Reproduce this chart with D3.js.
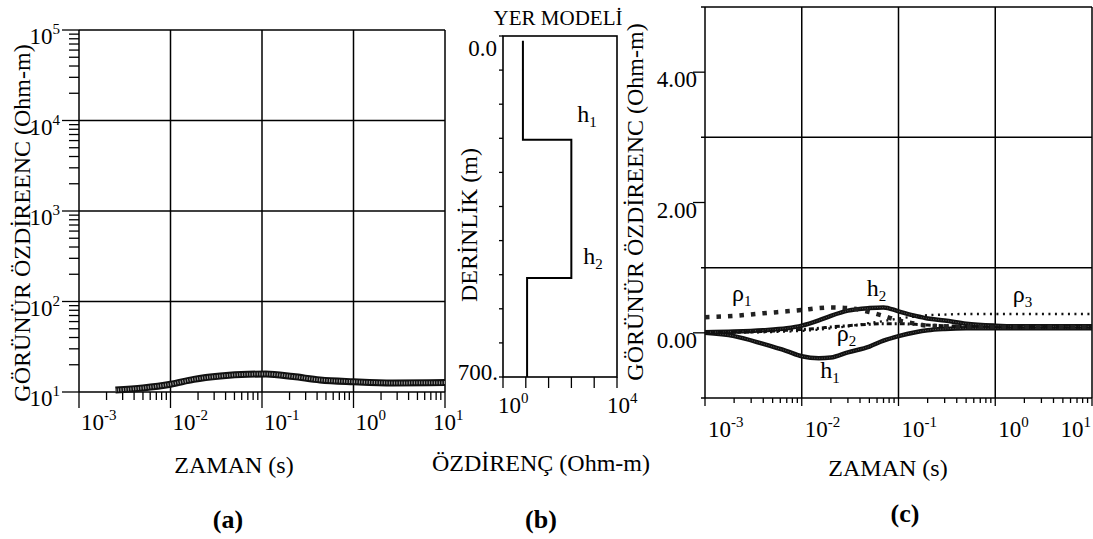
<!DOCTYPE html>
<meta charset="utf-8">
<style>
body { margin: 0; background: #fff; }
svg { font-family: "Liberation Serif", "Times New Roman", serif; }
.frame { fill: none; stroke: #000; stroke-width: 1.6; }
.grid { stroke: #000; stroke-width: 1.5; }
.tick { stroke: #000; stroke-width: 1.3; }
</style>
<svg width="1093" height="539"></svg>
<script src="https://cdn.jsdelivr.net/npm/d3@7"></script>
<script>
// (a) apparent resistivity curve
var timeA = [0.0025, 0.005, 0.01, 0.018, 0.035, 0.07, 0.11, 0.22, 0.43, 1, 2.7, 10];
var rhoA = [10.5, 11.1, 12.2, 13.8, 15.0, 15.7, 15.8, 14.8, 13.6, 13.0, 12.6, 12.7];

// (b) earth model
var layerRho = [5, 250, 7];
var layerTop = [10, 213, 497];
var modelBottom = 700;

// (c) sensitivities
var timeC = [0.001, 0.002, 0.004, 0.007, 0.01, 0.015, 0.02, 0.03, 0.05, 0.07, 0.1, 0.15, 0.2, 0.3, 0.5, 1, 2, 5, 10];
var sensH1 = [0, -0.05, -0.17, -0.28, -0.36, -0.39, -0.38, -0.30, -0.21, -0.12, -0.05, 0.01, 0.04, 0.06, 0.07, 0.07, 0.07, 0.07, 0.07];
var sensH2 = [0.01, 0.02, 0.04, 0.07, 0.11, 0.19, 0.26, 0.34, 0.38, 0.39, 0.33, 0.26, 0.22, 0.19, 0.14, 0.11, 0.1, 0.1, 0.1];
var sensRho1 = [0.24, 0.26, 0.30, 0.33, 0.35, 0.38, 0.39, 0.38, 0.32, 0.26, 0.19, 0.14, 0.11, 0.10, 0.09, 0.09, 0.09, 0.09, 0.09];
var sensRho2 = [0, 0.01, 0.02, 0.04, 0.05, 0.07, 0.09, 0.11, 0.13, 0.14, 0.14, 0.13, 0.12, 0.11, 0.1, 0.09, 0.09, 0.09, 0.09];
var sensRho3 = [0, 0.005, 0.01, 0.02, 0.03, 0.05, 0.07, 0.1, 0.15, 0.18, 0.22, 0.25, 0.27, 0.28, 0.29, 0.29, 0.29, 0.29, 0.29];

var svg = d3.select("svg");

function isDecade(d) {
  var l = Math.log10(d);
  return Math.abs(l - Math.round(l)) < 1e-9;
}
// "10" with a raised exponent
function pow10(text, e) {
  text.append("tspan").text("10");
  text.append("tspan").attr("dy", -10).attr("font-size", 15).text(e);
}
function sub(text, base, s) {
  text.append("tspan").text(base);
  text.append("tspan").attr("dy", 5).attr("font-size", 15).text(s);
}
// thick stippled line: dark edge with a dotted grey core
function band(g, pts, line, w) {
  g.append("path").attr("d", line(pts)).attr("fill", "none")
    .attr("stroke", "#111").attr("stroke-width", w);
  g.append("path").attr("d", line(pts)).attr("fill", "none")
    .attr("stroke", "#a0a0a0").attr("stroke-width", w - 4)
    .attr("stroke-dasharray", "1,1.5");
}

// ---------- panel (a) ----------
var xA = d3.scaleLog().domain([1e-3, 10]).range([79, 445]);
var yA = d3.scaleLog().domain([10, 1e5]).range([392, 30]);
var gA = svg.append("g");
var decA = xA.ticks().filter(isDecade);
var decAy = yA.ticks().filter(isDecade);

gA.selectAll(".vx").data(decA).enter().append("line").attr("class", "grid")
  .attr("x1", xA).attr("x2", xA).attr("y1", yA(10)).attr("y2", yA(1e5));
gA.selectAll(".hy").data(decAy).enter().append("line").attr("class", "grid")
  .attr("x1", xA(1e-3)).attr("x2", xA(10)).attr("y1", yA).attr("y2", yA);
gA.selectAll(".tx").data(xA.ticks()).enter().append("line").attr("class", "tick")
  .attr("x1", xA).attr("x2", xA).attr("y1", yA(10))
  .attr("y2", function(d) { return yA(10) + (isDecade(d) ? 16 : 8); });
gA.selectAll(".ty").data(yA.ticks()).enter().append("line").attr("class", "tick")
  .attr("y1", yA).attr("y2", yA).attr("x1", xA(1e-3))
  .attr("x2", function(d) { return xA(1e-3) - (isDecade(d) ? 17 : 10); });

decA.forEach(function(d, i) {
  var last = i == decA.length - 1;
  var t = gA.append("text").attr("x", xA(d) + (last ? -12 : 2)).attr("y", 430).attr("font-size", 23);
  pow10(t, Math.round(Math.log10(d)));
});
decAy.forEach(function(d) {
  var t = gA.append("text").attr("x", 60).attr("y", yA(d) + 14)
    .attr("font-size", 23).attr("text-anchor", "end");
  pow10(t, Math.round(Math.log10(d)));
});

var lineA = d3.line().curve(d3.curveMonotoneX)
  .x(function(d) { return xA(d[0]); }).y(function(d) { return yA(d[1]); });
band(gA, d3.zip(timeA, rhoA), lineA, 7);

gA.append("text").attr("transform", "translate(30,223) rotate(-90)")
  .attr("text-anchor", "middle").attr("font-size", 24).text("GÖRÜNÜR ÖZDİREENC (Ohm-m)");
gA.append("text").attr("x", 234).attr("y", 473).attr("text-anchor", "middle")
  .attr("font-size", 24).text("ZAMAN (s)");
gA.append("text").attr("x", 228).attr("y", 528).attr("text-anchor", "middle")
  .attr("font-size", 26).attr("font-weight", "bold").text("(a)");

// ---------- panel (b) ----------
var xB = d3.scaleLog().domain([1, 1e4]).range([503, 617]);
var yB = d3.scaleLinear().domain([0, modelBottom]).range([36, 377]);
var gB = svg.append("g");
gB.append("rect").attr("class", "frame")
  .attr("x", xB(1)).attr("y", yB(0)).attr("width", xB(1e4) - xB(1)).attr("height", yB(modelBottom) - yB(0));
var bTicks = d3.range(0, 4.01, 0.8).map(function(e) { return Math.pow(10, e); });
gB.selectAll(".tx").data(bTicks).enter().append("line").attr("class", "tick")
  .attr("x1", xB).attr("x2", xB).attr("y1", yB(modelBottom)).attr("y2", yB(modelBottom) + 11);
gB.selectAll(".ty").data(d3.range(0, modelBottom + 1, 70)).enter().append("line").attr("class", "tick")
  .attr("y1", yB).attr("y2", yB).attr("x1", xB(1)).attr("x2", xB(1) - 4);

var modelPts = [];
layerRho.forEach(function(r, i) {
  modelPts.push([r, layerTop[i]]);
  modelPts.push([r, i < layerRho.length - 1 ? layerTop[i + 1] : modelBottom]);
});
gB.append("path").attr("fill", "none").attr("stroke", "#000").attr("stroke-width", 2)
  .attr("d", d3.line().x(function(d) { return xB(d[0]); }).y(function(d) { return yB(d[1]); })(modelPts));

gB.append("text").attr("x", 497).attr("y", yB(0) + 20).attr("text-anchor", "end")
  .attr("font-size", 23).text("0.0");
gB.append("text").attr("x", 498).attr("y", yB(modelBottom) + 3).attr("text-anchor", "end")
  .attr("font-size", 23).text("700.");
pow10(gB.append("text").attr("x", xB(1) - 5).attr("y", 413).attr("font-size", 23), 0);
pow10(gB.append("text").attr("x", xB(1e4) - 10).attr("y", 413).attr("font-size", 23), 4);

sub(gB.append("text").attr("x", xB(layerRho[1]) + 6).attr("y", yB(layerTop[1]) - 18).attr("font-size", 24), "h", "1");
sub(gB.append("text").attr("x", xB(layerRho[1]) + 12).attr("y", yB(layerTop[2]) - 14).attr("font-size", 24), "h", "2");

gB.append("text").attr("x", 558).attr("y", 25).attr("text-anchor", "middle")
  .attr("font-size", 21).text("YER MODELİ");
gB.append("text").attr("transform", "translate(477,225) rotate(-90)")
  .attr("text-anchor", "middle").attr("font-size", 24).text("DERİNLİK (m)");
gB.append("text").attr("x", 541).attr("y", 471).attr("text-anchor", "middle")
  .attr("font-size", 24).text("ÖZDİRENÇ (Ohm-m)");
gB.append("text").attr("x", 541).attr("y", 528).attr("text-anchor", "middle")
  .attr("font-size", 26).attr("font-weight", "bold").text("(b)");

// ---------- panel (c) ----------
var xC = d3.scaleLog().domain([1e-3, 10]).range([705, 1092]);
var yC = d3.scaleLinear().domain([-1, 5]).range([398, 7]);
var gC = svg.append("g");
var decC = xC.ticks().filter(isDecade);

gC.selectAll(".vx").data(decC).enter().append("line").attr("class", "grid")
  .attr("x1", xC).attr("x2", xC).attr("y1", yC(-1)).attr("y2", yC(5));
gC.selectAll(".hy").data([-1, 1, 3, 5]).enter().append("line").attr("class", "grid")
  .attr("x1", xC(1e-3) - 4).attr("x2", xC(10)).attr("y1", yC).attr("y2", yC);
gC.selectAll(".ty").data([0, 2, 4]).enter().append("line").attr("class", "tick")
  .attr("x1", xC(1e-3) - 12).attr("x2", xC(1e-3)).attr("y1", yC).attr("y2", yC);
gC.selectAll(".tx").data(xC.ticks()).enter().append("line").attr("class", "tick")
  .attr("x1", xC).attr("x2", xC).attr("y1", yC(-1))
  .attr("y2", function(d) { return yC(-1) + (isDecade(d) ? 8 : 5); });

gC.selectAll(".ly").data([0, 2, 4]).enter().append("text")
  .attr("x", xC(1e-3) - 8).attr("y", function(d) { return yC(d) + 15; })
  .attr("text-anchor", "end").attr("font-size", 23).text(d3.format(".2f"));
decC.forEach(function(d, i) {
  var last = i == decC.length - 1;
  var t = gC.append("text").attr("x", last ? xC(d) - 1 : xC(d) + 3).attr("y", 437)
    .attr("font-size", 23).attr("text-anchor", last ? "end" : "start");
  pow10(t, Math.round(Math.log10(d)));
});

var lineC = d3.line().curve(d3.curveMonotoneX)
  .x(function(d, i) { return xC(timeC[i]); }).y(function(d) { return yC(d); });
band(gC, sensH1, lineC, 4.5);
band(gC, sensH2, lineC, 4.5);
gC.append("path").attr("d", lineC(sensRho2)).attr("fill", "none").attr("stroke", "#111")
  .attr("stroke-width", 3).attr("stroke-dasharray", "5,3,2,3");
gC.append("path").attr("d", lineC(sensRho3)).attr("fill", "none").attr("stroke", "#111")
  .attr("stroke-width", 2.4).attr("stroke-dasharray", "2,4.5");
gC.append("path").attr("d", lineC(sensRho1)).attr("fill", "none").attr("stroke", "#222")
  .attr("stroke-width", 4.5).attr("stroke-dasharray", "4.5,7");

sub(gC.append("text").attr("x", xC(0.0019)).attr("y", yC(0.49)).attr("font-size", 24), "ρ", "1");
sub(gC.append("text").attr("x", xC(0.047)).attr("y", yC(0.57)).attr("font-size", 24), "h", "2");
sub(gC.append("text").attr("x", xC(0.023)).attr("y", yC(-0.13)).attr("font-size", 24), "ρ", "2");
sub(gC.append("text").attr("x", xC(0.0155)).attr("y", yC(-0.69)).attr("font-size", 24), "h", "1");
sub(gC.append("text").attr("x", xC(1.52)).attr("y", yC(0.47)).attr("font-size", 24), "ρ", "3");

gC.append("text").attr("transform", "translate(643,202) rotate(-90)")
  .attr("text-anchor", "middle").attr("font-size", 24).text("GÖRÜNÜR ÖZDİREENC (Ohm-m)");
gC.append("text").attr("x", 888).attr("y", 476).attr("text-anchor", "middle")
  .attr("font-size", 24).text("ZAMAN (s)");
gC.append("text").attr("x", 905).attr("y", 522).attr("text-anchor", "middle")
  .attr("font-size", 26).attr("font-weight", "bold").text("(c)");
</script>
